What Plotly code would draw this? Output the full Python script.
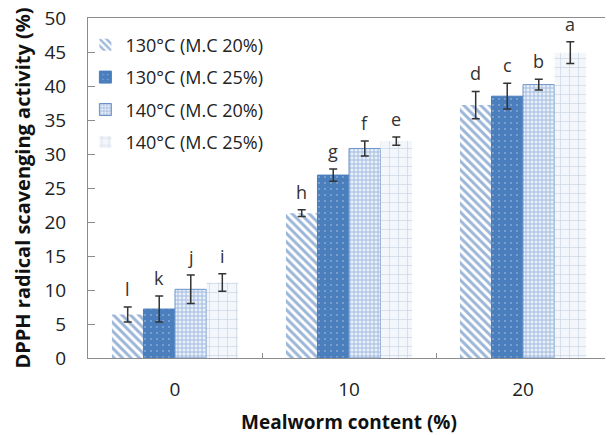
import plotly.graph_objects as go

categories = ["0", "10", "20"]
series_names = ["130°C (M.C 20%)", "130°C (M.C 25%)", "140°C (M.C 20%)", "140°C (M.C 25%)"]
vals_130_20 = [6.4, 21.3, 37.2]
vals_130_25 = [7.2, 26.9, 38.5]
vals_140_20 = [10.1, 30.8, 40.2]
vals_140_25 = [11.1, 31.9, 44.9]
err_130_20 = [1.1, 0.5, 2.0]
err_130_25 = [1.9, 0.9, 1.9]
err_140_20 = [2.1, 1.1, 0.8]
err_140_25 = [1.3, 0.6, 1.6]
letters_130_20 = ["l", "h", "d"]
letters_130_25 = ["k", "g", "c"]
letters_140_20 = ["j", "f", "b"]
letters_140_25 = ["i", "e", "a"]
y_ticks = [0, 5, 10, 15, 20, 25, 30, 35, 40, 45, 50]

values = [vals_130_20, vals_130_25, vals_140_20, vals_140_25]
errors = [err_130_20, err_130_25, err_140_20, err_140_25]
letters = [letters_130_20, letters_130_25, letters_140_20, letters_140_25]

BLUE = "#4a7ebd"
patterns = [
    dict(shape="\\", fgcolor="#3a6db2", bgcolor="white", size=6, solidity=0.5),
    dict(shape=".", fgcolor="#c9d8ee", bgcolor=BLUE, size=6, solidity=0.08),
    dict(shape="+", fgcolor="#4a7cbf", bgcolor="#eaf0f8", size=4, solidity=0.4),
    dict(shape="+", fgcolor="#9cafc8", bgcolor="#f3f6fa", size=9, solidity=0.14),
]
line_colors = ["rgba(0,0,0,0)", BLUE, "#6a92c8", "rgba(0,0,0,0)"]

FONT = "Open Sans"
fig = go.Figure()
for i in range(4):
    fig.add_trace(go.Bar(
        x=categories, y=values[i], name=series_names[i],
        legendgroup=f"g{i}",
        marker=dict(color="white", pattern=patterns[i],
                    line=dict(color=line_colors[i], width=1)),
        error_y=dict(type="data", array=errors[i], color="#333333",
                     thickness=1.5, width=4),
    ))

# plot geometry (page body adds an 8px offset)
L, R, T, B = 80, 3, 10, 77
W, H = 605, 427
bargap = 0.275
plot_w = W - L - R
bar_w = plot_w / len(categories) * (1 - bargap) / 4

for i in range(4):
    for j in range(len(categories)):
        fig.add_annotation(
            x=j, y=values[i][j] + errors[i][j], text=letters[i][j],
            showarrow=False, xshift=(i - 1.5) * bar_w, yanchor="bottom", yshift=4,
            font=dict(family=FONT, size=18, color="#333333"),
        )

fig.update_layout(
    width=W, height=H,
    margin=dict(l=L, r=R, t=T, b=B, autoexpand=False),
    paper_bgcolor="white", plot_bgcolor="white",
    barmode="group", bargap=bargap, bargroupgap=0,
    font=dict(family=FONT, color="#222222"),
    showlegend=True,
    legend=dict(x=-0.005, y=0.975, xanchor="left", yanchor="top",
                bgcolor="rgba(255,255,255,0)", font=dict(family=FONT, size=18, color="#222222"),
                traceorder="grouped", tracegroupgap=6),
    xaxis=dict(
        type="category", range=[-0.5, 2.5], showline=True, mirror=True, linecolor="#8c8c8c", linewidth=1,
        ticks="inside", tickson="boundaries", ticklen=5, tickcolor="#8c8c8c",
        tickfont=dict(family=FONT, size=19, color="#222222"), ticklabelstandoff=14,
        title=dict(text="<b>Mealworm content (%)</b>", font=dict(family=FONT, size=19, color="#111111"), standoff=14),
        showgrid=False, tickangle=0, ticklabeloverflow="allow",
    ),
    yaxis=dict(
        range=[0, 50], tickvals=y_ticks, showline=True, mirror=True, linecolor="#8c8c8c", linewidth=1,
        ticks="inside", ticklen=7, tickcolor="#8c8c8c",
        tickfont=dict(family=FONT, size=19, color="#222222"), ticklabelstandoff=17,
        title=dict(text="<b>DPPH radical scavenging activity (%)</b>", font=dict(family=FONT, size=20, color="#111111"), standoff=8),
        showgrid=False, zeroline=False, ticklabeloverflow="allow",
    ),
)
fig.write_html("out.html")
